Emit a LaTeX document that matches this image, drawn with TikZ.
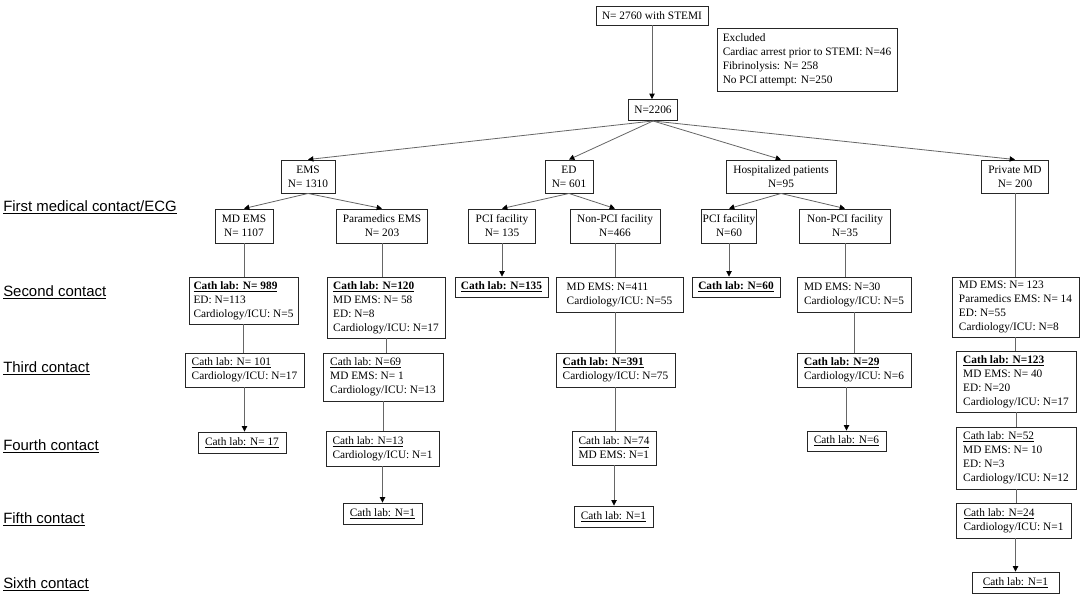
\documentclass[tikz,border=0pt]{standalone}
\usepackage{fontspec}
\setmainfont{Liberation Serif}
\newfontfamily\lblfont{Liberation Sans}
\usetikzlibrary{arrows.meta}
\newcommand\myul[1]{\underline{#1}}
\newcommand\mybul[1]{\textbf{\underline{#1}}}
\begin{document}
\begin{tikzpicture}[x=0.75pt,y=-0.75pt,
 box/.style={draw=black!85, line width=0.7pt, inner sep=1pt, font=\fontsize{8.5}{10.5}\selectfont},
 sz/.style 2 args={minimum width=#1*0.75pt, minimum height=#2*0.75pt},
 lbl/.style={anchor=base west, inner sep=0pt, font=\lblfont\fontsize{11.2}{13}\selectfont},
 conn/.style={draw=black!60, line width=0.6pt},
 arr/.style={conn, -{Triangle[length=4pt,width=4pt,color=black]}},
]
\useasboundingbox[fill=white] (0,0) rectangle (1084,597);

% row labels
\node[lbl] (l1) at (3,211) {\myul{First medical contact/ECG}};
\node[lbl] (l2) at (3,296) {\myul{Second contact}};
\node[lbl] (l3) at (3,372) {\myul{Third contact}};
\node[lbl] (l4) at (3,450) {\myul{Fourth contact}};
\node[lbl] (l5) at (3,523) {\myul{Fifth contact}};
\node[lbl] (l6) at (3,588) {\myul{Sixth contact}};

% top
\node[box, sz={112}{19}, align=center] (top) at (652,15.5) {N= 2760 with STEMI};
\node[box, sz={180}{63}, align=left] (excl) at (807,60) {Excluded\\Cardiac arrest prior to STEMI: N=46\\Fibrinolysis: N= 258\\No PCI attempt: N=250};
\node[box, sz={49}{21}, align=center] (n2206) at (653,110) {N=2206};

% first medical contact
\node[box, sz={54}{33}, align=center] (ems) at (308,176.5) {EMS\\N= 1310};
\node[box, sz={48}{33}, align=center] (ed) at (569,176.5) {ED\\N= 601};
\node[box, sz={110}{33}, align=center] (hosp) at (781,176.5) {Hospitalized patients\\N=95};
\node[box, sz={67}{33}, align=center] (pmd) at (1015,176.5) {Private MD\\N= 200};

\node[box, sz={58}{34}, align=center] (mdems) at (244,226) {MD EMS\\N= 1107};
\node[box, sz={91}{34}, align=center] (para) at (382,226) {Paramedics EMS\\N= 203};
\node[box, sz={67}{34}, align=center] (pci1) at (502,226) {PCI facility\\N= 135};
\node[box, sz={90}{34}, align=center] (npci1) at (615,226) {Non-PCI facility\\N=466};
\node[box, sz={55}{34}, align=center] (pci2) at (729,226) {PCI facility\\N=60};
\node[box, sz={91}{34}, align=center] (npci2) at (845,226) {Non-PCI facility\\N=35};

% second contact
\node[box, sz={109}{47}, align=left] (mdems2) at (243.5,300.5) {\mybul{Cath lab: N= 989}\\ED: N=113\\Cardiology/ICU: N=5};
\node[box, sz={118}{61}, align=left] (para2) at (386,307.5) {\mybul{Cath lab: N=120}\\MD EMS: N= 58\\ED: N=8\\Cardiology/ICU: N=17};
\node[box, sz={93}{20}, align=center] (cath135) at (501.5,287) {\mybul{Cath lab: N=135}};
\node[box, sz={127}{35}, align=left] (npci1b) at (619.5,294.5) {MD EMS: N=411\\Cardiology/ICU: N=55};
\node[box, sz={88}{20}, align=center] (cath60) at (736,287) {\mybul{Cath lab: N=60}};
\node[box, sz={114}{35}, align=left] (npci2b) at (854,294.5) {MD EMS: N=30\\Cardiology/ICU: N=5};
\node[box, sz={127}{60}, align=left] (pmd2) at (1015.5,307) {MD EMS: N= 123\\Paramedics EMS: N= 14\\ED: N=55\\Cardiology/ICU: N=8};

% third contact
\node[box, sz={119}{34}, align=left] (mdems3) at (244.5,370) {\myul{Cath lab: N= 101}\\Cardiology/ICU: N=17};
\node[box, sz={120}{48}, align=left] (para3) at (383,377) {\myul{Cath lab: N=69}\\MD EMS: N= 1\\Cardiology/ICU: N=13};
\node[box, sz={119}{34}, align=left] (npci1c) at (615.5,370) {\mybul{Cath lab: N=391}\\Cardiology/ICU: N=75};
\node[box, sz={114}{34}, align=left] (npci2c) at (854,370) {\mybul{Cath lab: N=29}\\Cardiology/ICU: N=6};
\node[box, sz={120}{61}, align=left] (pmd3) at (1016,381.5) {\mybul{Cath lab: N=123}\\MD EMS: N= 40\\ED: N=20\\Cardiology/ICU: N=17};

% fourth contact
\node[box, sz={88}{21}, align=center] (mdems4) at (242,442.5) {\myul{Cath lab: N= 17}};
\node[box, sz={113}{35}, align=left] (para4) at (382.5,448.5) {\myul{Cath lab: N=13}\\Cardiology/ICU: N=1};
\node[box, sz={84}{34}, align=left] (npci1d) at (614,448) {\myul{Cath lab: N=74}\\MD EMS: N=1};
\node[box, sz={79}{20}, align=center] (npci2d) at (846.5,441) {\myul{Cath lab: N=6}};
\node[box, sz={120}{62}, align=left] (pmd4) at (1016,458) {\myul{Cath lab: N=52}\\MD EMS: N= 10\\ED: N=3\\Cardiology/ICU: N=12};

% fifth contact
\node[box, sz={79}{21}, align=center] (para5) at (382.5,513.5) {\myul{Cath lab: N=1}};
\node[box, sz={79}{21}, align=center] (npci1e) at (613.5,516.5) {\myul{Cath lab: N=1}};
\node[box, sz={115}{35}, align=left] (pmd5) at (1013.5,520.5) {\myul{Cath lab: N=24}\\Cardiology/ICU: N=1};

% sixth contact
\node[box, sz={87}{21}, align=center] (pmd6) at (1015.5,582.5) {\myul{Cath lab: N=1}};

% connectors
\draw[arr] (top.south) -- (top.south |- n2206.north);
\foreach \c in {ems,ed,hosp,pmd} \draw[arr] (n2206.south) -- (\c.north);
\draw[arr] (ems.south) -- (mdems.north);
\draw[arr] (ems.south) -- (para.north);
\draw[arr] (ed.south) -- (pci1.north);
\draw[arr] (ed.south) -- (npci1.north);
\draw[arr] (hosp.south) -- (pci2.north);
\draw[arr] (hosp.south) -- (npci2.north);

\draw[arr] (pci1.south) -- (pci1.south |- cath135.north);
\draw[arr] (pci2.south) -- (pci2.south |- cath60.north);
\draw[conn] (mdems.south) -- (mdems.south |- mdems2.north);
\draw[conn] (para.south) -- (para.south |- para2.north);
\draw[conn] (npci1.south) -- (npci1.south |- npci1b.north);
\draw[conn] (npci2.south) -- (npci2.south |- npci2b.north);
\draw[conn] (pmd.south) -- (pmd.south |- pmd2.north);

\draw[conn] (mdems2.south) -- (mdems2.south |- mdems3.north);
\draw[conn] (para2.south) -- (para3.north -| para2.south);
\draw[conn] (npci1b.south -| npci1c.north) -- (npci1c.north);
\draw[conn] (npci2b.south -| npci2c.north) -- (npci2c.north);
\draw[conn] (pmd2.south) -- (pmd2.south |- pmd3.north);

\draw[arr] (mdems3.south) -- (mdems3.south |- mdems4.north);
\draw[conn] (para3.south) -- (para3.south |- para4.north);
\draw[conn] (npci1c.south) -- (npci1c.south |- npci1d.north);
\draw[arr] (npci2c.south -| npci2d.north) -- (npci2d.north);
\draw[conn] (pmd3.south) -- (pmd3.south |- pmd4.north);

\draw[arr] (para4.south) -- (para4.south |- para5.north);
\draw[arr] (npci1d.south) -- (npci1d.south |- npci1e.north);
\draw[conn] (pmd4.south) -- (pmd4.south |- pmd5.north);
\draw[arr] (pmd5.south -| pmd6.north) -- (pmd6.north);
\end{tikzpicture}
\end{document}
